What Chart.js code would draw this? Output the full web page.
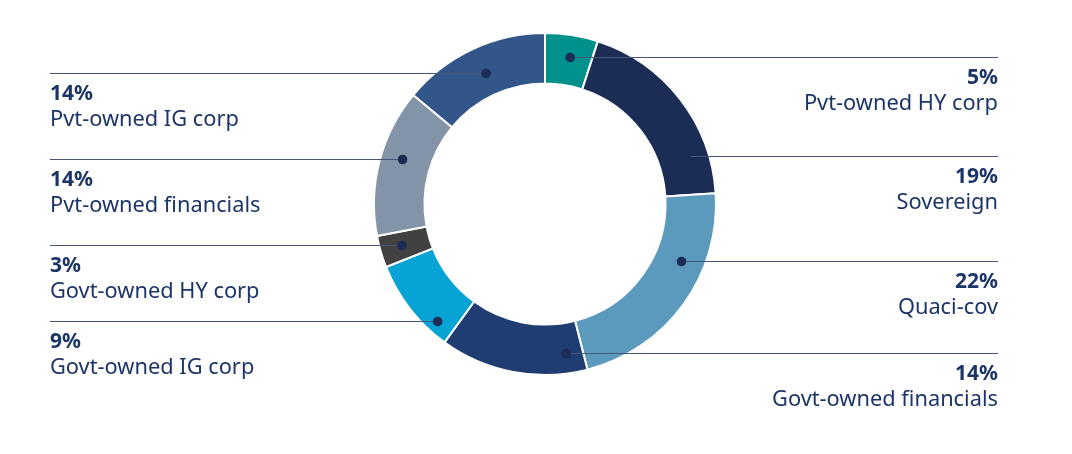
<!DOCTYPE html>
<html>
<head>
<meta charset="utf-8">
<script src="https://cdn.jsdelivr.net/npm/chart.js@4/dist/chart.umd.min.js"></script>
<style>
  html, body { margin: 0; padding: 0; background: #fff; }
  #wrap { width: 1072px; height: 454px; }
</style>
</head>
<body>
<div id="wrap"><canvas id="mix-chart" width="1072" height="454"></canvas></div>
<script>
const categories = [
  'Pvt-owned HY corp',
  'Sovereign',
  'Quaci-cov',
  'Govt-owned financials',
  'Govt-owned IG corp',
  'Govt-owned HY corp',
  'Pvt-owned financials',
  'Pvt-owned IG corp'
];
const shares = [5, 19, 22, 14, 9, 3, 14, 14];
const colors = ['#00918d', '#1b2d55', '#5b9abd', '#1f3c73', '#07a3d4', '#414141', '#8494a8', '#32568a'];

// where each leader dot sits inside its slice:
// along the arc (0 = start, 1 = end) and across the ring (0 = inner, 1 = outer)
const dotAlong = [0.54, 0.78, 0.33, 0.125, 0.2, 0.51, 0.56, 0.52];
const dotAcross = [0.57, 0.56, 0.54, 0.59, 0.76, 0.56, 0.57, 0.46];

const textColor = '#1c3567';
const lineColor = '#47577b';

const leaderLabels = {
  id: 'leaderLabels',
  afterDraw(chart) {
    const ctx = chart.ctx;
    const meta = chart.getDatasetMeta(0);
    meta.data.forEach((arc, i) => {
      const p = arc.getProps(['x', 'y', 'startAngle', 'endAngle', 'innerRadius', 'outerRadius'], true);
      const a = p.startAngle + dotAlong[i] * (p.endAngle - p.startAngle);
      const r = p.innerRadius + dotAcross[i] * (p.outerRadius - p.innerRadius);
      const dx = p.x + r * Math.cos(a);
      const dy = p.y + r * Math.sin(a);
      const right = Math.cos(a) > 0;
      const edge = right ? 998 : 50;
      const ly = Math.round(dy) + 0.5;

      ctx.save();
      ctx.strokeStyle = lineColor;
      ctx.lineWidth = 1.2;
      ctx.beginPath();
      ctx.moveTo(dx, ly);
      ctx.lineTo(edge, ly);
      ctx.stroke();

      ctx.fillStyle = '#1b2d55';
      ctx.beginPath();
      ctx.arc(dx, ly, 4.8, 0, Math.PI * 2);
      ctx.fill();

      ctx.fillStyle = textColor;
      ctx.textAlign = right ? 'right' : 'left';
      ctx.textBaseline = 'alphabetic';
      ctx.font = 'bold 21px "Noto Sans"';
      ctx.fillText(shares[i] + '%', edge, ly + 26);
      ctx.font = '21.8px "Noto Sans"';
      ctx.fillText(categories[i], edge, ly + 52.5);
      ctx.restore();
    });
  }
};

new Chart(document.getElementById('mix-chart'), {
  type: 'doughnut',
  data: {
    labels: categories,
    datasets: [{
      data: shares,
      backgroundColor: colors,
      borderColor: '#ffffff',
      borderWidth: 2
    }]
  },
  options: {
    responsive: false,
    animation: false,
    cutout: '70.5%',
    layout: { padding: { left: 373, right: 355, top: 32, bottom: 78 } },
    plugins: {
      legend: { display: false },
      tooltip: { enabled: false }
    }
  },
  plugins: [leaderLabels]
});
</script>
</body>
</html>
